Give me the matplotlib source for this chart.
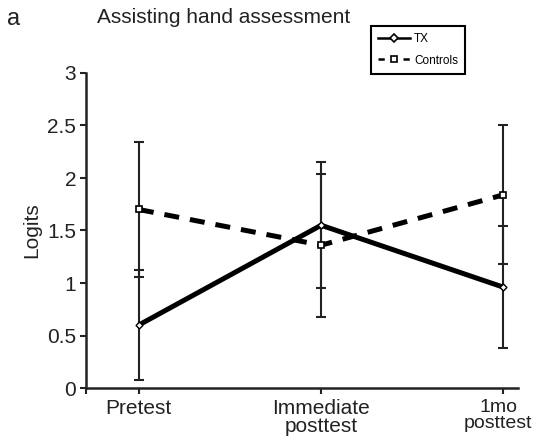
import numpy as np
import matplotlib.pyplot as plt
import matplotlib.transforms as mtransforms
from matplotlib.lines import Line2D

plt.rcParams['font.family'] = ['Liberation Sans', 'DejaVu Sans']

# Data
timepoints = ['Pretest', 'Immediate\nposttest', '1mo\nposttest']
tx_mean = [0.60, 1.55, 0.96]
tx_err = [0.52, 0.60, 0.58]
ctrl_mean = [1.70, 1.36, 1.84]
ctrl_err = [0.64, 0.68, 0.66]

x = np.arange(len(timepoints))

fig = plt.figure(figsize=(5.36, 4.4), dpi=100)
ax = fig.add_axes([86 / 536, 1 - 388 / 440, (518 - 86) / 536, (388 - 73) / 440])

# error bars first, then lines and markers
ax.errorbar(x, tx_mean, yerr=tx_err, fmt='none', ecolor='#222222',
            elinewidth=1.5, capsize=3.5, capthick=1.5, zorder=2)
ax.errorbar(x, ctrl_mean, yerr=ctrl_err, fmt='none', ecolor='#222222',
            elinewidth=1.5, capsize=3.5, capthick=1.5, zorder=2)

ax.plot(x, tx_mean, color='black', lw=3.6, solid_capstyle='butt', zorder=3)
ax.plot(x, ctrl_mean, color='black', lw=3.6, dashes=(3, 2.2), zorder=3)
ax.plot(x, tx_mean, ls='none', marker='D', ms=3.5, mfc='white',
        mec='black', mew=1.0, zorder=4)
ax.plot(x, ctrl_mean, ls='none', marker='s', ms=5, mfc='white',
        mec='black', mew=1.2, zorder=4)

ax.set_xlim(-0.29, 2.08)
ax.set_ylim(0, 3)
ax.set_yticks([0, 0.5, 1, 1.5, 2, 2.5, 3])
ax.set_yticklabels(['0', '0.5', '1', '1.5', '2', '2.5', '3'])
ax.set_xticks(list(x) + [-0.29])
ax.set_xticklabels(timepoints + [''])
ax.tick_params(axis='both', labelsize=15, colors='#222222', width=1.5,
               length=4, direction='out', pad=3)
ax.tick_params(axis='x', pad=4)
for s in ['top', 'right']:
    ax.spines[s].set_visible(False)
for s in ['left', 'bottom']:
    ax.spines[s].set_linewidth(1.8)
    ax.spines[s].set_color('#222222')
xlabels = ax.get_xticklabels()
for lbl in xlabels:
    lbl.set_linespacing(0.95)
# last label sits a little left of its tick, as in the original
xlabels[2].set_fontsize(14)
shift = mtransforms.ScaledTranslation(-5 / 100, 0, fig.dpi_scale_trans)
xlabels[2].set_transform(xlabels[2].get_transform() + shift)

ax.set_ylabel('Logits', fontsize=15, color='#222222', labelpad=4)

fig.text(7 / 536, 1 - 25 / 440, 'a', fontsize=17, color='#222222')
fig.text(97 / 536, 1 - 23 / 440, 'Assisting hand assessment',
         fontsize=15, color='#222222')

handles = [
    Line2D([], [], color='black', lw=1.8, marker='D', ms=4, mfc='white',
           mec='black', mew=1.2),
    Line2D([], [], color='black', lw=1.8, dashes=(2.5, 2.5), marker='s',
           ms=5, mfc='white', mec='black', mew=1.2),
]
leg = fig.legend(handles, ['TX', 'Controls'], loc='upper left',
                 bbox_to_anchor=(371 / 536, 1 - 26 / 440),
                 fontsize=8.5, handlelength=2.7, handletextpad=0.35,
                 borderpad=0.6, labelspacing=0.8, fancybox=False,
                 framealpha=1, borderaxespad=0)
leg.get_frame().set_edgecolor('black')
leg.get_frame().set_linewidth(1.5)

fig.savefig('out.png', dpi=100)
